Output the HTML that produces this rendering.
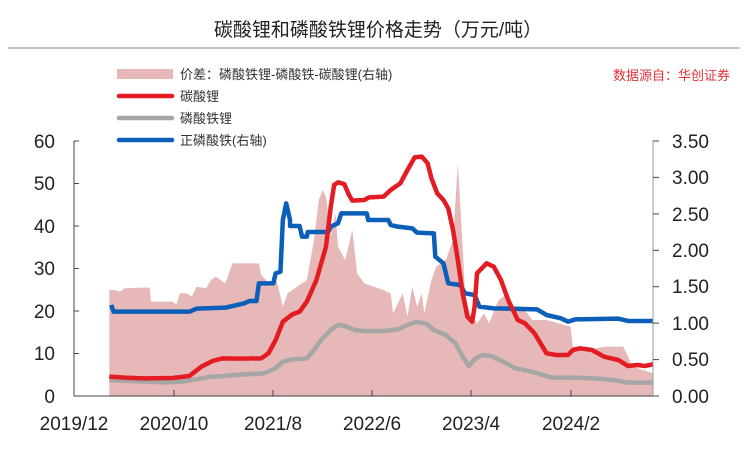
<!DOCTYPE html>
<html><head><meta charset="utf-8"><style>
body{margin:0;background:#fff;}
svg{display:block;font-family:"Liberation Sans","Noto Sans CJK SC",sans-serif;}
</style></head><body>
<svg width="747" height="449" viewBox="0 0 747 449">
<text x="378" y="36" font-size="19" text-anchor="middle" fill="#222">碳酸锂和磷酸铁锂价格走势（万元/吨）</text>
<line x1="8" y1="48" x2="740" y2="48" stroke="#888" stroke-width="1"/>
<text x="730" y="80" font-size="13" text-anchor="end" fill="#e0333a">数据源自：华创证券</text>
<rect x="117" y="69" width="56" height="10" fill="#e6b8b8"/>
<text x="180" y="79" font-size="13" fill="#333">价差：磷酸铁锂-磷酸铁-碳酸锂(右轴)</text>
<line x1="119" y1="96" x2="172" y2="96" stroke="#e31c23" stroke-width="4.5" stroke-linecap="round"/>
<text x="180" y="101" font-size="13" fill="#333">碳酸锂</text>
<line x1="119" y1="118" x2="172" y2="118" stroke="#a6a6a6" stroke-width="4.5" stroke-linecap="round"/>
<text x="180" y="123" font-size="13" fill="#333">磷酸铁锂</text>
<line x1="119" y1="140" x2="172" y2="140" stroke="#0b5fb8" stroke-width="4.5" stroke-linecap="round"/>
<text x="180" y="145" font-size="13" fill="#333">正磷酸铁(右轴)</text>

<g transform="translate(0,120) scale(0.4794,0.33333)">
<polygon fill="#e6b8b8" points="228,830 228,510 240,510 250,515 260,505 290,503 312,503 315,545 360,545 368,555 375,520 390,520 400,530 410,500 430,505 440,480 450,470 470,490 485,430 540,430 545,465 555,480 565,500 575,470 590,560 600,520 620,500 640,480 655,360 665,240 673,210 680,230 690,350 700,280 705,380 720,420 735,330 745,460 760,490 800,510 815,520 820,580 840,520 850,590 860,500 870,560 880,520 885,580 900,480 910,440 930,420 945,360 955,130 962,300 970,520 980,580 995,610 1010,580 1020,610 1040,540 1060,520 1070,560 1090,560 1110,600 1140,600 1190,620 1195,680 1230,690 1260,680 1300,680 1320,740 1362,760 1362,830"/>
<polyline fill="none" stroke="#a6a6a6" stroke-width="4.5" vector-effect="non-scaling-stroke" stroke-linejoin="round" points="228,780 280,783 340,787 380,785 410,778 440,770 470,768 500,764 550,760 575,745 590,725 610,718 640,715 655,690 670,660 690,630 705,615 720,618 740,630 760,633 800,633 830,628 850,615 870,605 890,612 905,630 930,645 950,670 965,710 978,738 990,718 1005,705 1025,708 1050,725 1075,745 1110,755 1150,773 1200,773 1240,775 1280,780 1310,788 1362,788"/>
<polyline fill="none" stroke="#0b5fb8" stroke-width="4.5" vector-effect="non-scaling-stroke" stroke-linejoin="round" points="232,555 237,575 300,575 395,575 410,566 470,563 510,550 520,543 535,543 540,490 570,490 575,460 585,455 590,300 597,250 605,300 605,318 625,318 630,350 640,350 642,336 685,336 690,320 705,310 712,280 765,280 768,300 810,300 815,315 830,320 860,325 870,338 905,340 908,410 925,430 935,490 960,495 970,520 990,525 1000,560 1030,565 1120,568 1140,585 1170,595 1185,605 1200,598 1290,596 1310,603 1362,603"/>
<polyline fill="none" stroke="#e31c23" stroke-width="4.5" vector-effect="non-scaling-stroke" stroke-linejoin="round" points="228,770 260,773 300,775 360,774 395,768 420,740 445,722 465,715 500,716 545,715 560,700 575,660 590,605 610,583 625,575 640,545 660,480 680,380 690,260 697,195 705,187 718,192 728,225 735,242 760,240 770,232 800,230 815,210 835,190 850,150 865,112 880,110 892,130 900,175 912,220 925,240 935,265 945,330 955,420 965,520 975,590 985,605 990,560 995,460 1015,430 1030,440 1045,480 1060,540 1080,600 1095,610 1115,640 1140,700 1160,705 1185,705 1195,690 1210,685 1235,690 1260,710 1290,720 1310,738 1330,735 1345,738 1362,733"/>
</g>

<g stroke="#444" stroke-width="1">
<line x1="74" y1="141" x2="74" y2="396"/>
<line x1="74" y1="396" x2="653" y2="396"/>
<line x1="653" y1="141" x2="653" y2="396" stroke="#999"/>
<line x1="74" y1="141" x2="79" y2="141"/><line x1="74" y1="183.5" x2="79" y2="183.5"/><line x1="74" y1="226" x2="79" y2="226"/><line x1="74" y1="268.5" x2="79" y2="268.5"/><line x1="74" y1="311" x2="79" y2="311"/><line x1="74" y1="353.5" x2="79" y2="353.5"/>
<line x1="653" y1="141" x2="659" y2="141"/><line x1="653" y1="177.4" x2="659" y2="177.4"/><line x1="653" y1="213.9" x2="659" y2="213.9"/><line x1="653" y1="250.3" x2="659" y2="250.3"/><line x1="653" y1="286.7" x2="659" y2="286.7"/><line x1="653" y1="323.1" x2="659" y2="323.1"/><line x1="653" y1="359.6" x2="659" y2="359.6"/><line x1="653" y1="396" x2="659" y2="396"/>
<line x1="174" y1="390" x2="174" y2="396"/><line x1="273" y1="390" x2="273" y2="396"/><line x1="372" y1="390" x2="372" y2="396"/><line x1="471" y1="390" x2="471" y2="396"/><line x1="571" y1="390" x2="571" y2="396"/>
</g>
<g font-size="19" fill="#222" text-anchor="end">
<text x="55" y="148">60</text><text x="55" y="190">50</text><text x="55" y="233">40</text><text x="55" y="275">30</text><text x="55" y="318">20</text><text x="55" y="360">10</text><text x="55" y="403">0</text>
</g>
<g font-size="19" fill="#222" text-anchor="start">
<text x="672" y="148">3.50</text><text x="672" y="184">3.00</text><text x="672" y="221">2.50</text><text x="672" y="257">2.00</text><text x="672" y="293">1.50</text><text x="672" y="330">1.00</text><text x="672" y="366">0.50</text><text x="672" y="403">0.00</text>
</g>
<g font-size="19" fill="#222" text-anchor="middle">
<text x="74" y="430">2019/12</text><text x="174" y="430">2020/10</text><text x="273" y="430">2021/8</text><text x="372" y="430">2022/6</text><text x="471" y="430">2023/4</text><text x="571" y="430">2024/2</text>
</g>
</svg>
</body></html>
